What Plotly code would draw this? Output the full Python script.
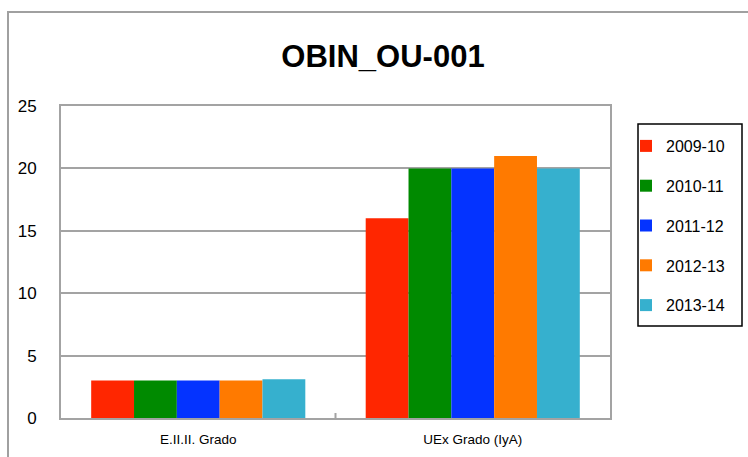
import plotly.graph_objects as go

categories = ["E.II.II. Grado", "UEx Grado (IyA)"]
series_names = ["2009-10", "2010-11", "2011-12", "2012-13", "2013-14"]
v_2009_10 = [3, 16]
v_2010_11 = [3, 20]
v_2011_12 = [3, 20]
v_2012_13 = [3, 21]
v_2013_14 = [3.1, 20]
series_values = [v_2009_10, v_2010_11, v_2011_12, v_2012_13, v_2013_14]
colors = ["#FF2600", "#008A00", "#0433FF", "#FF7A00", "#36B0CE"]
y_ticks = [0, 5, 10, 15, 20, 25]

W, H = 748, 457
L, R, T, B = 61, 138, 106, 39
pw, ph = W - L - R, H - T - B

fig = go.Figure()
for i, (name, vals) in enumerate(zip(series_names, series_values)):
    fig.add_trace(go.Bar(
        x=categories, y=vals, name=name,
        marker=dict(color=colors[i], line=dict(width=0)),
        legendgroup=name,
    ))

FONT = "Liberation Sans, Arial, sans-serif"
fig.update_layout(
    width=W, height=H,
    margin=dict(l=L, r=R, t=T, b=B, pad=0, autoexpand=False),
    paper_bgcolor="white", plot_bgcolor="white",
    barmode="group", bargap=0.22, bargroupgap=0,
    font=dict(family=FONT, color="#000000"),
    title=dict(text="<b>OBIN_OU-001</b>", font=dict(size=31, family=FONT, color="black"),
               xref="container", x=383 / W, xanchor="center",
               yref="container", y=1 - 56 / H, yanchor="middle"),
    showlegend=True,
    legend=dict(
        x=(626 - L) / pw, xanchor="left",
        y=(418 - 129) / ph, yanchor="top",
        borderwidth=0, bgcolor="rgba(0,0,0,0)",
        font=dict(size=16, family=FONT, color="black"),
        traceorder="grouped", tracegroupgap=16,
        itemwidth=30,
    ),
    xaxis=dict(
        automargin=False,
        showgrid=False, showline=True, mirror=True,
        linecolor="#A3A3A3", linewidth=2,
        ticks="outside", ticklen=8, tickcolor="rgba(0,0,0,0)",
        tickfont=dict(size=13.5, family=FONT, color="black"),
    ),
    yaxis=dict(
        automargin=False,
        range=[0, 25], tickvals=y_ticks,
        showgrid=True, gridcolor="#A3A3A3", gridwidth=1.5,
        showline=True, mirror=True, linecolor="#A3A3A3", linewidth=2,
        ticks="outside", ticklen=19, tickcolor="rgba(0,0,0,0)",
        tickfont=dict(size=17, family=FONT, color="black"),
        zeroline=False,
    ),
)

# inside tick at category boundary
fig.add_shape(type="line", xref="x", yref="paper", x0=0.5, x1=0.5, y0=0, y1=5 / ph,
              line=dict(color="#A3A3A3", width=2))
# outer chart-area border
fig.add_shape(type="rect", xref="paper", yref="paper",
              x0=(8 - L) / pw, x1=(800 - L) / pw,
              y0=(418 - 520) / ph, y1=(418 - 12) / ph,
              line=dict(color="#A0A0A0", width=2), fillcolor="rgba(0,0,0,0)", layer="below")
# legend frame
fig.add_shape(type="rect", xref="paper", yref="paper",
              x0=(638 - L) / pw, x1=(742 - L) / pw,
              y0=(418 - 326) / ph, y1=(418 - 124) / ph,
              line=dict(color="black", width=1.5), fillcolor="rgba(0,0,0,0)")

fig.write_html("out.html", config={"displayModeBar": False},
               post_script="document.body.style.margin='0';")
